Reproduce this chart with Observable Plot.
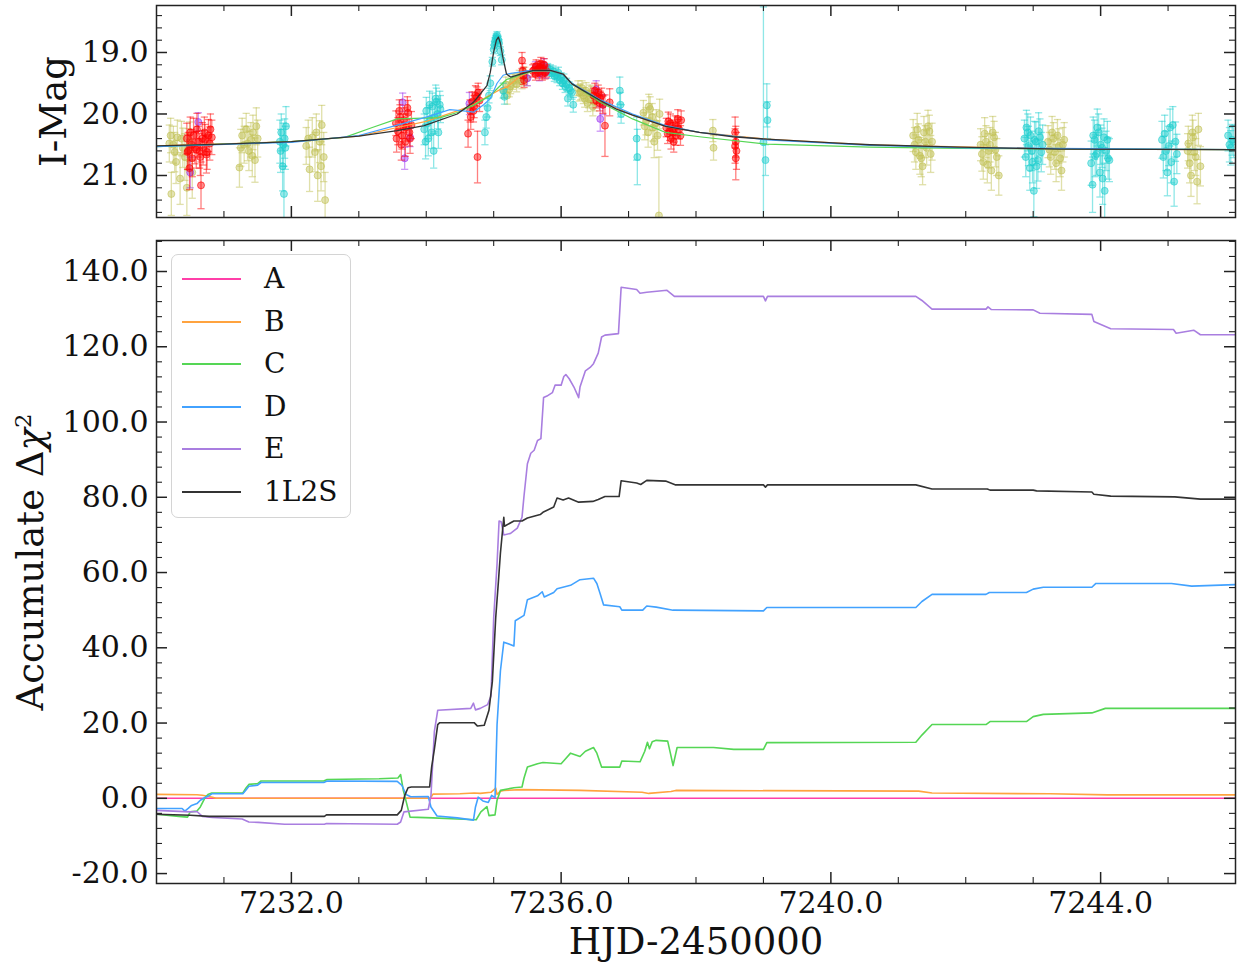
<!DOCTYPE html>
<html><head><meta charset="utf-8">
<script src="https://cdn.jsdelivr.net/npm/d3@7"></script>
<script src="https://cdn.jsdelivr.net/npm/@observablehq/plot@0.6"></script>
<style>
body{margin:0;background:#fff;}
#wrap{position:relative;width:1239px;height:969px;font-family:"DejaVu Serif",serif;overflow:hidden;}
#top{position:absolute;left:0;top:0;}
#bot{position:absolute;left:0;top:230px;}
#legend{position:absolute;left:171px;top:254px;width:180px;height:264px;box-sizing:border-box;border:1.5px solid #d4d4d4;border-radius:7px;background:rgba(255,255,255,0.85);}
.li{position:absolute;left:0;height:0;}
.ln{position:absolute;left:10px;width:59px;height:2px;top:-1px;}
.lb{position:absolute;left:92px;top:-17px;font-size:28px;line-height:34px;color:#111;white-space:nowrap;}
</style></head><body>
<div id="wrap"><div id="top"></div><div id="bot"></div><div id="legend"></div></div>
<script>
// ---------- categories / styles ----------
const models = ["A", "B", "C", "D", "E", "1L2S"];
const colors = ["#ff3fa8", "#ffa33f", "#55d655", "#42a2ff", "#a97ee0", "#333333"];

// ---------- ticks ----------
const xMajor = [7232, 7236, 7240, 7244];
const xMinor = [7231, 7233, 7234, 7235, 7237, 7238, 7239, 7241, 7242, 7243, 7245];
const magMajor = [19, 20, 21];
const magMinor = [18.4, 18.6, 18.8, 19.2, 19.4, 19.6, 19.8, 20.2, 20.4, 20.6, 20.8, 21.2, 21.4, 21.6];
const chiMajor = [-20, 0, 20, 40, 60, 80, 100, 120, 140];
const chiMinor = [-16, -12, -8, -4, 4, 8, 12, 16, 24, 28, 32, 36, 44, 48, 52, 56, 64, 68, 72, 76, 84, 88, 92, 96, 104, 108, 112, 116, 124, 128, 132, 136, 144, 148];

// ---------- light curve data [HJD', mag, err] ----------
const photOlive = [
 [7230.19,20.48,0.30],[7230.21,20.35,0.28],[7230.22,21.30,0.35],[7230.25,20.50,0.30],[7230.27,20.62,0.32],[7230.29,20.78,0.35],[7230.31,20.38,0.28],[7230.35,21.05,0.42],[7230.37,20.40,0.28],[7230.39,20.55,0.32],[7230.42,20.70,0.38],[7230.45,21.20,0.45],[7230.47,20.58,0.34],[7230.49,20.45,0.32],[7230.53,20.95,0.42],
 [7231.23,20.87,0.32],[7231.25,20.55,0.30],[7231.27,20.35,0.28],[7231.30,20.50,0.30],[7231.33,20.25,0.26],[7231.35,20.48,0.28],[7231.37,20.60,0.32],[7231.40,20.42,0.28],[7231.42,20.68,0.34],[7231.43,20.30,0.28],[7231.46,20.75,0.36],[7231.48,20.20,0.30],[7231.50,20.40,0.30],
 [7232.22,20.52,0.30],[7232.25,20.40,0.30],[7232.27,20.90,0.36],[7232.31,20.38,0.32],[7232.35,20.62,0.32],[7232.37,20.30,0.30],[7232.39,21.00,0.42],[7232.42,20.45,0.34],[7232.44,20.85,0.40],[7232.45,20.18,0.32],[7232.48,20.70,0.40],[7232.50,21.40,0.45],
 [7235.15,19.62,0.12],[7235.18,19.52,0.12],[7235.20,19.70,0.14],[7235.23,19.60,0.12],[7235.25,19.55,0.12],[7235.28,19.48,0.12],[7235.30,19.45,0.11],[7235.34,19.52,0.12],[7235.36,19.44,0.11],[7235.38,19.40,0.11],[7235.42,19.47,0.12],[7235.44,19.38,0.11],[7235.46,19.35,0.11],[7235.49,19.42,0.12],
 [7236.25,19.58,0.12],[7236.27,19.66,0.13],[7236.29,19.64,0.13],[7236.31,19.58,0.12],[7236.33,19.70,0.13],[7236.35,19.75,0.14],[7236.37,19.62,0.13],[7236.39,19.82,0.14],[7236.41,19.76,0.14],[7236.43,19.66,0.13],[7236.45,19.68,0.13],[7236.47,19.88,0.15],[7236.49,19.80,0.15],
 [7237.22,19.98,0.20],[7237.24,20.20,0.22],[7237.26,20.12,0.22],[7237.29,20.30,0.24],[7237.30,19.88,0.20],[7237.32,19.92,0.20],[7237.35,20.05,0.22],[7237.36,20.22,0.22],[7237.38,20.45,0.26],[7237.41,20.15,0.22],[7237.43,20.35,0.24],[7237.45,21.65,0.95],[7237.46,20.00,0.24],
 [7238.25,20.27,0.18],[7238.26,20.55,0.20],
 [7241.22,20.35,0.26],[7241.24,20.50,0.28],[7241.26,20.62,0.28],[7241.28,20.25,0.26],[7241.30,20.42,0.26],[7241.32,20.68,0.30],[7241.34,20.72,0.30],[7241.36,20.85,0.30],[7241.38,20.30,0.26],[7241.40,20.45,0.26],[7241.42,20.55,0.28],[7241.44,20.20,0.26],[7241.46,20.28,0.26],[7241.48,20.65,0.30],[7241.50,20.45,0.30],
 [7242.22,20.50,0.26],[7242.24,20.65,0.28],[7242.26,20.78,0.28],[7242.28,20.32,0.26],[7242.30,20.45,0.26],[7242.32,20.82,0.30],[7242.34,20.60,0.28],[7242.36,20.50,0.28],[7242.38,20.92,0.32],[7242.40,20.30,0.26],[7242.42,20.38,0.26],[7242.44,20.58,0.28],[7242.46,20.70,0.30],[7242.49,21.00,0.32],
 [7243.22,20.45,0.26],[7243.24,20.58,0.28],[7243.26,20.70,0.28],[7243.28,20.30,0.26],[7243.30,20.40,0.26],[7243.32,20.62,0.28],[7243.34,20.80,0.30],[7243.36,20.35,0.26],[7243.38,20.52,0.28],[7243.40,20.72,0.30],[7243.42,20.92,0.32],[7243.44,20.50,0.28],[7243.46,20.42,0.28],
 [7245.29,20.60,0.28],[7245.30,20.48,0.28],[7245.32,20.80,0.32],[7245.34,21.00,0.34],[7245.36,20.30,0.28],[7245.37,20.38,0.28],[7245.39,20.62,0.30],[7245.41,20.70,0.30],[7245.43,21.10,0.36],[7245.45,20.25,0.26],[7245.48,20.85,0.32]
];
const photRed = [
 [7230.45,20.40,0.25],[7230.46,20.62,0.28],[7230.47,20.60,0.30],[7230.49,20.88,0.35],[7230.50,20.30,0.25],[7230.52,20.50,0.25],[7230.53,20.72,0.30],[7230.55,20.35,0.28],[7230.57,20.55,0.26],[7230.59,20.58,0.30],[7230.60,20.25,0.26],[7230.62,20.45,0.25],[7230.64,20.60,0.28],[7230.65,20.70,0.30],[7230.66,21.16,0.38],[7230.68,20.40,0.26],[7230.69,20.55,0.28],[7230.71,20.30,0.25],[7230.72,20.42,0.25],[7230.74,20.66,0.30],[7230.75,20.62,0.28],[7230.77,20.35,0.26],[7230.79,20.48,0.27],[7230.80,20.25,0.25],[7230.82,20.38,0.28],
 [7233.55,20.15,0.20],[7233.56,20.40,0.22],[7233.58,20.28,0.22],[7233.60,19.95,0.18],[7233.61,20.05,0.20],[7233.63,20.50,0.25],[7233.64,20.35,0.22],[7233.66,20.20,0.20],[7233.67,20.10,0.20],[7233.69,20.45,0.24],[7233.70,20.22,0.22],[7233.72,19.90,0.18],[7233.73,19.98,0.20],[7233.75,20.30,0.22],[7233.76,20.40,0.24],[7233.78,20.18,0.22],
 [7234.62,20.32,0.22],[7234.65,19.95,0.18],[7234.66,20.05,0.20],[7234.68,19.80,0.16],[7234.70,19.95,0.18],[7234.71,19.88,0.18],[7234.73,19.70,0.16],[7234.75,19.72,0.16],[7234.76,20.70,0.42],[7234.77,19.65,0.15],[7234.79,19.78,0.18],
 [7235.42,19.13,0.13],[7235.43,19.30,0.12],[7235.44,19.38,0.14],[7235.45,19.45,0.12],
 [7235.58,19.30,0.10],[7235.60,19.28,0.10],[7235.62,19.35,0.10],[7235.63,19.22,0.10],[7235.65,19.28,0.10],[7235.66,19.32,0.10],[7235.68,19.24,0.10],[7235.69,19.25,0.10],[7235.70,19.18,0.10],[7235.72,19.35,0.10],[7235.73,19.26,0.10],[7235.75,19.20,0.10],[7235.76,19.33,0.10],[7235.78,19.30,0.10],
 [7236.48,19.70,0.12],[7236.50,19.62,0.12],[7236.52,19.78,0.12],[7236.54,19.72,0.12],[7236.55,19.65,0.12],[7236.57,19.82,0.13],[7236.58,19.75,0.12],[7236.60,19.70,0.12],[7236.62,19.85,0.14],[7236.65,20.19,0.50],[7236.72,19.81,0.22],
 [7237.56,20.22,0.15],[7237.58,20.32,0.16],[7237.59,20.12,0.15],[7237.61,20.28,0.15],[7237.62,20.15,0.15],[7237.63,20.40,0.17],[7237.65,20.25,0.15],[7237.66,20.30,0.16],[7237.67,20.45,0.17],[7237.69,20.18,0.15],[7237.70,20.35,0.16],[7237.72,20.20,0.15],[7237.73,20.08,0.15],[7237.75,20.25,0.16],[7237.77,20.35,0.16],[7237.78,20.10,0.15],
 [7238.58,20.30,0.25],[7238.58,20.52,0.28],[7238.59,20.45,0.25],[7238.60,20.60,0.30],[7238.59,20.72,0.35]
];
const photCyan = [
 [7231.83,20.45,0.35],[7231.84,20.60,0.35],[7231.85,20.30,0.30],[7231.87,20.85,0.40],[7231.88,20.50,0.35],[7231.89,21.30,0.45],[7231.90,20.40,0.32],[7231.91,20.55,0.35],[7231.92,20.20,0.32],
 [7233.97,20.25,0.25],[7233.99,20.45,0.28],[7234.00,19.95,0.22],[7234.02,20.15,0.25],[7234.03,20.40,0.28],[7234.05,19.85,0.22],[7234.06,20.10,0.24],[7234.08,20.30,0.26],[7234.09,19.88,0.22],[7234.11,20.60,0.28],[7234.12,20.05,0.24],[7234.14,19.75,0.22],[7234.15,19.80,0.22],[7234.17,20.00,0.24],[7234.18,20.30,0.26],[7234.20,19.85,0.22],[7234.21,19.92,0.22],
 [7234.87,20.30,0.20],[7234.89,20.05,0.18],[7234.91,19.90,0.15],[7234.93,19.70,0.12],[7234.95,19.50,0.12],
 [7234.98,19.15,0.07],[7235.00,18.95,0.07],[7235.01,18.88,0.06],[7235.02,18.82,0.06],[7235.03,18.78,0.06],[7235.04,18.75,0.06],[7235.05,18.72,0.06],[7235.06,18.78,0.06],[7235.07,18.80,0.06],[7235.08,18.85,0.06],[7235.10,18.98,0.07],[7235.12,19.12,0.08],
 [7235.14,19.62,0.12],[7235.16,19.72,0.12],
 [7235.80,19.26,0.08],[7235.82,19.30,0.08],[7235.84,19.28,0.08],[7235.86,19.34,0.08],[7235.88,19.30,0.08],[7235.90,19.38,0.09],[7235.92,19.35,0.09],[7235.94,19.40,0.09],[7235.96,19.33,0.09],[7235.98,19.45,0.09],[7236.00,19.42,0.09],[7236.02,19.50,0.10],[7236.04,19.45,0.10],[7236.06,19.55,0.10],[7236.08,19.52,0.10],[7236.10,19.75,0.12],[7236.12,19.58,0.10],[7236.14,19.62,0.10],[7236.16,19.65,0.11],[7236.18,19.85,0.12],
 [7236.87,19.62,0.22],[7236.88,19.85,0.20],[7236.89,20.00,0.15],
 [7237.12,20.40,0.35],[7237.13,20.70,0.45],
 [7239.00,20.46,2.2],[7239.03,20.75,0.25],[7239.05,19.86,0.35],[7239.06,20.10,0.30],
 [7242.87,20.40,0.30],[7242.89,20.70,0.32],[7242.90,20.22,0.28],[7242.92,20.30,0.30],[7242.93,20.52,0.32],[7242.95,20.88,0.36],[7242.96,20.35,0.30],[7242.98,20.60,0.32],[7242.99,20.78,0.34],[7243.01,21.25,0.42],[7243.02,20.42,0.30],[7243.04,20.45,0.32],[7243.05,20.85,0.36],[7243.07,20.75,0.34],[7243.08,20.28,0.30],[7243.10,20.38,0.30],[7243.12,20.62,0.32],[7243.14,20.50,0.32],
 [7243.86,20.80,0.36],[7243.88,21.15,0.45],[7243.89,20.35,0.30],[7243.91,20.42,0.32],[7243.92,20.68,0.34],[7243.94,20.65,0.35],[7243.95,20.22,0.30],[7243.97,20.30,0.30],[7243.99,20.95,0.40],[7244.00,20.50,0.32],[7244.02,20.55,0.32],[7244.03,21.05,0.42],[7244.05,20.38,0.30],[7244.06,21.25,0.45],[7244.08,20.60,0.32],[7244.10,20.42,0.30],[7244.11,20.72,0.34],[7244.13,20.75,0.35],
 [7244.91,20.42,0.30],[7244.93,20.70,0.34],[7244.95,20.32,0.30],[7244.97,20.60,0.32],[7244.99,20.95,0.38],[7245.01,20.52,0.32],[7245.03,20.22,0.30],[7245.05,20.78,0.34],[7245.07,20.18,0.30],[7245.09,21.10,0.40],[7245.11,20.45,0.32],[7245.13,20.65,0.32],
 [7245.89,20.35,0.25],[7245.91,20.50,0.28],[7245.93,20.55,0.28],[7245.95,20.42,0.25],[7245.97,20.45,0.26]
];
const photPurple = [
 [7230.62,20.13,0.15],[7230.50,20.95,0.25],
 [7233.65,19.81,0.15],[7233.68,20.72,0.18],[7233.76,20.38,0.15],
 [7234.64,19.83,0.18],
 [7235.50,19.42,0.12],
 [7235.62,19.25,0.10],[7235.68,19.35,0.11],[7235.71,19.28,0.10],[7235.74,19.20,0.10],[7235.77,19.32,0.10],
 [7236.52,19.60,0.14],[7236.58,20.08,0.20],[7236.62,19.85,0.16]
];

// ---------- model light curves [HJD', mag] ----------
const lcB = [[7230.0,20.52],[7232.0,20.45],[7233.0,20.36],[7233.57,20.22],[7234.0,20.12],[7234.46,19.95],[7234.7,19.85],[7234.9,19.72],[7235.1,19.6],[7235.2,19.56],[7235.4,19.38],[7235.59,19.29],[7235.84,19.29],[7236.03,19.35],[7236.16,19.51],[7236.58,19.78],[7237.06,20.02],[7237.55,20.2],[7238.05,20.3],[7239.05,20.41],[7240.58,20.5],[7243.4,20.57],[7246,20.58]];
const lcC = [[7230.0,20.53],[7232.0,20.45],[7232.79,20.38],[7233.2,20.22],[7233.57,20.08],[7234.21,20.06],[7234.45,19.98],[7234.7,19.86],[7234.95,19.70],[7235.19,19.44],[7235.4,19.36],[7235.6,19.3],[7235.84,19.3],[7236.03,19.36],[7236.16,19.5],[7236.58,19.81],[7237.06,20.08],[7237.55,20.30],[7238.05,20.37],[7239.05,20.49],[7240.58,20.54],[7241.9,20.56],[7246,20.58]];
const lcD = [[7230.0,20.53],[7232.0,20.46],[7233.0,20.35],[7233.57,20.18],[7234.0,20.05],[7234.35,19.93],[7234.55,19.95],[7234.7,19.97],[7234.85,19.85],[7234.95,19.75],[7235.05,19.5],[7235.14,19.37],[7235.2,19.35],[7235.5,19.3],[7235.84,19.29],[7236.03,19.36],[7236.16,19.5],[7236.58,19.77],[7237.06,20.0],[7237.55,20.19],[7238.05,20.30],[7239.05,20.42],[7240.58,20.51],[7242,20.55],[7246,20.58]];
const lc1L2S = [[7230.0,20.52],[7231.0,20.49],[7232.0,20.45],[7233.0,20.36],[7233.57,20.27],[7233.97,20.19],[7234.46,20.0],[7234.7,19.81],[7234.9,19.54],[7234.95,19.32],[7235.0,18.99],[7235.04,18.8],[7235.07,18.75],[7235.1,18.85],[7235.14,19.10],[7235.19,19.35],[7235.25,19.40],[7235.4,19.35],[7235.59,19.29],[7235.84,19.29],[7236.03,19.35],[7236.16,19.51],[7236.33,19.62],[7236.58,19.78],[7236.82,19.92],[7237.06,20.02],[7237.55,20.20],[7238.05,20.30],[7238.55,20.37],[7239.05,20.41],[7240.03,20.47],[7240.58,20.50],[7241.9,20.54],[7243.4,20.57],[7246,20.58]];

// ---------- accumulated delta chi2 [HJD', value] ----------
const chiA = [[7230.0,0],[7246.0,0]];
const chiB = [[7230.0,1.05],[7230.6,0.95],[7230.68,0.8],[7230.83,0.3],[7230.88,0.0],[7234.06,0.0],[7234.1,1.1],[7234.5,1.2],[7234.71,1.4],[7234.8,1.3],[7234.96,1.6],[7235.03,2.7],[7235.05,1.0],[7235.1,1.9],[7235.15,2.1],[7235.4,2.3],[7236.28,2.1],[7237.2,1.6],[7237.3,1.3],[7237.63,1.8],[7237.7,2.1],[7241.3,1.9],[7241.5,1.4],[7243.25,1.2],[7244.1,0.9],[7246,0.9]];
const chiC = [[7230.0,-4.25],[7230.33,-4.8],[7230.46,-5.0],[7230.5,-3.6],[7230.6,-3.4],[7230.65,-2.3],[7230.72,0.2],[7230.77,1.1],[7230.82,1.4],[7231.28,1.4],[7231.33,2.8],[7231.37,3.7],[7231.5,3.9],[7231.55,4.6],[7232.48,4.6],[7232.53,5.0],[7233.3,5.2],[7233.58,5.4],[7233.62,6.3],[7233.66,2.1],[7233.71,-1.4],[7233.76,-5.0],[7234.1,-5.2],[7234.46,-5.5],[7234.74,-5.7],[7234.81,-3.6],[7234.9,-2.2],[7234.93,-4.6],[7235.02,-4.4],[7235.05,-0.5],[7235.1,2.1],[7235.3,2.8],[7235.42,3.0],[7235.45,5.4],[7235.5,8.3],[7235.65,9.2],[7235.73,9.5],[7236.0,9.2],[7236.05,10.2],[7236.14,12.0],[7236.28,11.1],[7236.36,12.5],[7236.48,13.5],[7236.53,12.0],[7236.6,8.3],[7236.87,8.3],[7236.9,9.9],[7237.17,9.7],[7237.24,12.5],[7237.28,14.9],[7237.31,13.2],[7237.35,15.0],[7237.41,15.4],[7237.58,15.2],[7237.62,12.0],[7237.66,8.7],[7237.72,13.5],[7238.26,13.5],[7238.56,13.0],[7239.0,13.0],[7239.05,14.8],[7241.26,14.9],[7241.35,16.8],[7241.5,19.6],[7242.3,19.6],[7242.36,20.4],[7242.9,20.4],[7243.0,21.7],[7243.15,22.3],[7243.87,22.7],[7244.07,23.9],[7246,23.9]];
const chiD = [[7230.0,-2.7],[7230.38,-2.7],[7230.42,-3.4],[7230.47,-2.7],[7230.52,-1.9],[7230.6,-1.4],[7230.65,-0.5],[7230.72,0.2],[7230.77,0.6],[7230.82,1.2],[7231.28,1.2],[7231.33,2.3],[7231.37,3.2],[7231.5,3.5],[7231.55,4.2],[7232.48,4.2],[7232.53,4.6],[7233.57,4.5],[7233.64,3.4],[7233.7,1.0],[7233.77,0.4],[7234.03,0.5],[7234.07,-2.3],[7234.16,-4.7],[7234.46,-5.2],[7234.7,-5.8],[7234.73,-2.3],[7234.77,0.3],[7234.84,-0.7],[7234.92,-1.1],[7234.97,0.8],[7235.02,0.2],[7235.05,19.6],[7235.1,33.9],[7235.15,41.5],[7235.3,40.5],[7235.32,47.2],[7235.45,48.6],[7235.5,52.8],[7235.65,53.8],[7235.72,54.9],[7235.75,53.5],[7235.89,54.7],[7235.94,55.7],[7236.14,56.6],[7236.28,58.1],[7236.48,58.5],[7236.53,57.1],[7236.58,54.3],[7236.63,51.4],[7236.87,50.9],[7236.9,50.0],[7237.21,50.0],[7237.27,51.1],[7237.41,50.8],[7237.66,50.0],[7239.0,49.8],[7239.05,50.7],[7241.26,50.7],[7241.35,52.3],[7241.5,54.2],[7242.3,54.2],[7242.35,54.7],[7242.9,54.7],[7243.0,55.6],[7243.15,56.1],[7243.87,56.1],[7243.93,57.1],[7245.05,57.1],[7245.35,56.4],[7246,56.8]];
const chiE = [[7230.0,-3.2],[7230.5,-3.6],[7230.6,-3.5],[7230.68,-4.8],[7230.83,-5.1],[7231.27,-5.5],[7231.37,-6.3],[7231.51,-6.4],[7231.9,-6.9],[7232.49,-6.9],[7232.52,-6.7],[7233.57,-6.9],[7233.62,-6.3],[7233.67,-3.6],[7234.03,-2.9],[7234.07,0.7],[7234.12,17.7],[7234.17,23.4],[7234.66,23.9],[7234.7,25.3],[7234.73,23.5],[7234.8,23.9],[7234.91,24.9],[7234.96,27.2],[7235.0,48],[7235.05,62.3],[7235.08,73.7],[7235.11,73.5],[7235.15,70],[7235.25,70.4],[7235.35,71.8],[7235.42,74.7],[7235.45,80.4],[7235.5,88.9],[7235.55,91.7],[7235.6,92.5],[7235.65,95.1],[7235.7,95.6],[7235.74,106.5],[7235.79,106.9],[7235.87,107.8],[7235.91,109.8],[7236.0,109.8],[7236.04,112.1],[7236.07,112.6],[7236.12,111.5],[7236.19,109.3],[7236.26,106.5],[7236.28,109.3],[7236.36,113.6],[7236.43,114.5],[7236.48,115.5],[7236.55,118.3],[7236.6,122.6],[7236.65,123.1],[7236.85,123.5],[7236.89,135.8],[7237.12,135.2],[7237.17,134.2],[7237.27,134.5],[7237.57,135.0],[7237.68,133.4],[7239.0,133.4],[7239.03,132.2],[7239.06,133.4],[7241.26,133.4],[7241.35,132.3],[7241.5,130.0],[7242.3,130.0],[7242.33,130.6],[7242.38,129.9],[7243.0,129.8],[7243.1,128.9],[7243.87,128.6],[7243.9,126.7],[7244.15,124.8],[7245.08,124.6],[7245.12,123.6],[7245.38,124.4],[7245.48,123.2],[7246,123.2]];
const chi1L2S = [[7230.0,-4.25],[7230.5,-4.5],[7230.78,-4.8],[7232.49,-4.8],[7232.52,-4.4],[7233.57,-4.4],[7233.63,-3.2],[7233.68,0.7],[7233.73,2.8],[7233.78,3.0],[7234.05,3.0],[7234.08,8.3],[7234.12,13.0],[7234.17,19.6],[7234.2,20.1],[7234.71,20.1],[7234.76,19.2],[7234.86,19.4],[7234.93,23.4],[7234.98,31],[7235.03,48],[7235.07,57.6],[7235.1,65.2],[7235.15,74.7],[7235.16,72.3],[7235.3,73.7],[7235.42,73.7],[7235.5,74.5],[7235.69,75.4],[7235.73,76.0],[7235.89,77.4],[7235.94,79.8],[7236.03,79.3],[7236.11,79.8],[7236.26,78.7],[7236.47,78.9],[7236.55,79.4],[7236.65,80.2],[7236.86,80.2],[7236.89,84.4],[7237.12,83.8],[7237.18,83.4],[7237.27,84.5],[7237.55,84.3],[7237.69,83.3],[7239.0,83.3],[7239.03,82.7],[7239.06,83.3],[7241.26,83.3],[7241.5,82.2],[7242.32,82.2],[7242.36,81.9],[7243.0,81.9],[7243.05,81.7],[7243.87,81.4],[7243.9,80.8],[7244.15,80.3],[7245.1,80.1],[7245.48,79.5],[7246,79.5]];
const chiSeries = [chiA, chiB, chiC, chiD, chiE, chi1L2S];

// ---------- helpers ----------
const W = 1239, ML = 156, MR = 4;
const FW = W - ML - MR;
const font = "'DejaVu Serif', serif";
const fmt = d => d.toFixed(1);
const capSymbol = {draw(ctx, size) { const r = Math.sqrt(size / Math.PI); ctx.moveTo(-r, 0); ctx.lineTo(r, 0); }};

function tickMarks(fh, yMaj, yMin) {
  const M = 11, m = 6, c = "#222";
  return [
    Plot.tickX(xMajor, {x: d => d, insetTop: fh - M, stroke: c, strokeWidth: 1.5}),
    Plot.tickX(xMajor, {x: d => d, insetBottom: fh - M, stroke: c, strokeWidth: 1.5}),
    Plot.tickX(xMinor, {x: d => d, insetTop: fh - m, stroke: c, strokeWidth: 1.1}),
    Plot.tickX(xMinor, {x: d => d, insetBottom: fh - m, stroke: c, strokeWidth: 1.1}),
    Plot.tickY(yMaj, {y: d => d, insetRight: FW - M, stroke: c, strokeWidth: 1.5}),
    Plot.tickY(yMaj, {y: d => d, insetLeft: FW - M, stroke: c, strokeWidth: 1.5}),
    Plot.tickY(yMin, {y: d => d, insetRight: FW - m, stroke: c, strokeWidth: 1.1}),
    Plot.tickY(yMin, {y: d => d, insetLeft: FW - m, stroke: c, strokeWidth: 1.1})
  ];
}

function photMarks(data, color) {
  const base = {x: d => d[0], stroke: color, strokeOpacity: 0.5, strokeWidth: 1.3, clip: true};
  return [
    Plot.ruleX(data, {...base, y1: d => d[1] - d[2], y2: d => d[1] + d[2]}),
    Plot.dot(data, {...base, y: d => d[1] - d[2], symbol: capSymbol, r: 3.6, fill: "none"}),
    Plot.dot(data, {...base, y: d => d[1] + d[2], symbol: capSymbol, r: 3.6, fill: "none"}),
    Plot.dot(data, {x: d => d[0], y: d => d[1], r: 3.5, fill: color, fillOpacity: 0.45, stroke: color, strokeOpacity: 0.6, strokeWidth: 1, clip: true})
  ];
}

const lineOpt = (i, w) => ({x: d => d[0], y: d => d[1], stroke: colors[i], strokeWidth: w, clip: true});

// ---------- top panel ----------
const topPlot = Plot.plot({
  width: W, height: 230, marginLeft: ML, marginRight: MR, marginTop: 5, marginBottom: 13,
  style: {fontFamily: font, fontSize: "30px", color: "#111", background: "transparent", overflow: "visible"},
  x: {domain: [7230, 7246], axis: null},
  y: {domain: [21.683, 18.236], axis: null},
  marks: [
    ...photMarks(photOlive, "#c2c255"),
    ...photMarks(photCyan, "#1fcfcf"),
    ...photMarks(photPurple, "#9b30f0"),
    ...photMarks(photRed, "#ff0000"),
    Plot.line(lcB, lineOpt(1, 1.2)),
    Plot.line(lcC, lineOpt(2, 1.2)),
    Plot.line(lcD, lineOpt(3, 1.2)),
    Plot.line(lc1L2S, lineOpt(5, 1.3)),
    ...tickMarks(212, magMajor, magMinor),
    Plot.frame({stroke: "#222", strokeWidth: 1.5}),
    Plot.axisY(magMajor, {tickSize: 0, tickPadding: 8, tickFormat: fmt, label: null}),
    Plot.text(["I-Mag"], {text: d => d, frameAnchor: "left", dx: -102, rotate: -90, fontSize: 37, lineAnchor: "middle", textAnchor: "middle", fill: "#111"})
  ]
});
document.getElementById("top").appendChild(topPlot);

// ---------- bottom panel ----------
const botPlot = Plot.plot({
  width: W, height: 739, marginLeft: ML, marginRight: MR, marginTop: 10, marginBottom: 86,
  style: {fontFamily: font, fontSize: "30px", color: "#111", background: "transparent", overflow: "visible"},
  x: {domain: [7230, 7246], axis: null},
  y: {domain: [-22.64, 148.24], axis: null},
  marks: [
    ...chiSeries.map((s, i) => Plot.line(s, lineOpt(i, 1.6))),
    ...tickMarks(643, chiMajor, chiMinor),
    Plot.frame({stroke: "#222", strokeWidth: 1.5}),
    Plot.axisX(xMajor, {tickSize: 0, tickPadding: 8, tickFormat: fmt, label: null}),
    Plot.axisY(chiMajor, {tickSize: 0, tickPadding: 8, tickFormat: fmt, label: null}),
    Plot.text(["HJD-2450000"], {text: d => d, frameAnchor: "bottom", dy: 59, fontSize: 37, lineAnchor: "middle", textAnchor: "middle", fill: "#111"}),
    Plot.text(["Accumulate Δχ2"], {text: d => d, frameAnchor: "left", dx: -125, rotate: -90, fontSize: 37, lineAnchor: "middle", textAnchor: "middle", fill: "#111"})
  ]
});
document.getElementById("bot").appendChild(botPlot);

d3.select(botPlot).selectAll("text")
  .filter(function() { return this.textContent === "Accumulate Δχ2"; })
  .html('Accumulate Δ<tspan font-style="italic">χ</tspan><tspan dy="-0.55em" font-size="0.62em">2</tspan>');

// ---------- legend ----------
const legendY = [24, 67, 109, 152, 194, 237];
const leg = d3.select("#legend");
models.forEach((m, i) => {
  const it = leg.append("div").attr("class", "li").style("top", legendY[i] + "px");
  it.append("div").attr("class", "ln").style("background", colors[i]);
  it.append("div").attr("class", "lb").text(m);
});
</script>
</body></html>
